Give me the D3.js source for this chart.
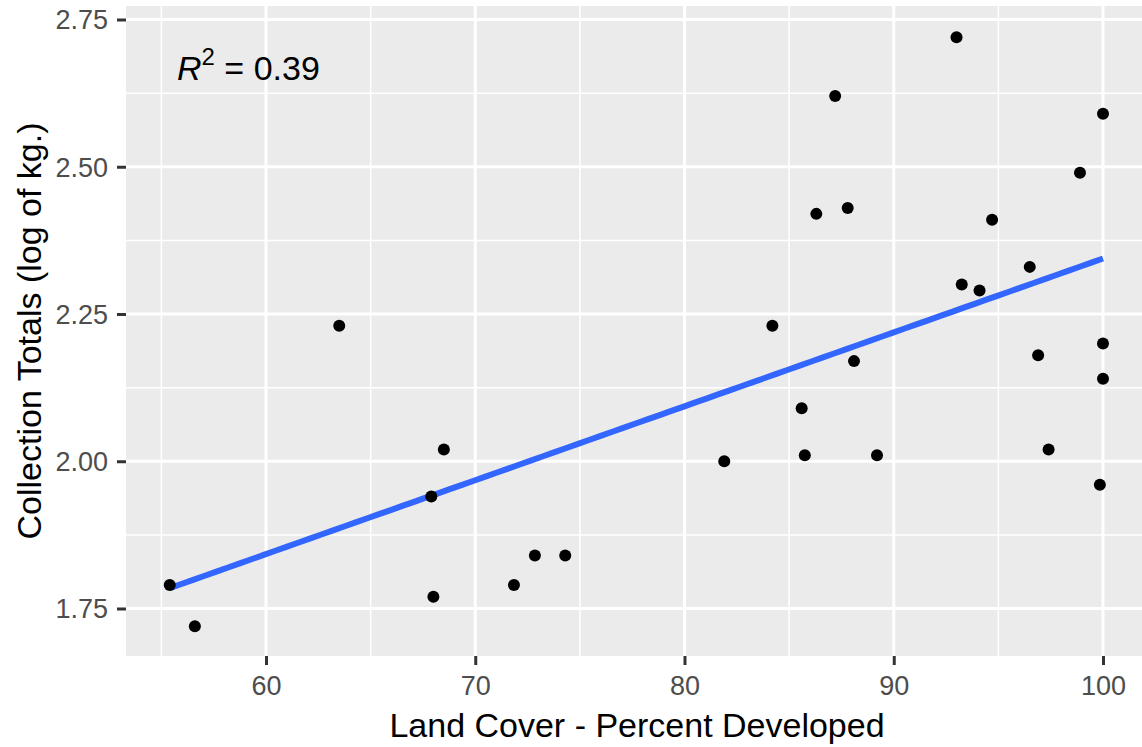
<!DOCTYPE html>
<html>
<head>
<meta charset="utf-8">
<script src="https://cdn.jsdelivr.net/npm/d3@7"></script>
<style>
  body { margin: 0; background: #fff; }
  svg { display: block; font-family: "Liberation Sans", Arial, sans-serif; }
</style>
</head>
<body>
<div class="chart"></div>
<script>
// percent developed (x) and log collection totals (y)
var developed = [55.4, 56.6, 63.5, 67.9, 68.0, 68.5, 71.85, 72.85, 74.3, 81.9,
                 84.2, 85.6, 85.75, 86.3, 87.2, 87.8, 88.1, 89.2, 93.0, 93.25,
                 94.1, 94.7, 96.5, 96.9, 97.4, 98.9, 100, 100, 100, 99.85]
var totals = [1.79, 1.72, 2.23, 1.94, 1.77, 2.02, 1.79, 1.84, 1.84, 2.00,
              2.23, 2.09, 2.01, 2.42, 2.62, 2.43, 2.17, 2.01, 2.72, 2.30,
              2.29, 2.41, 2.33, 2.18, 2.02, 2.49, 2.59, 2.20, 2.14, 1.96]
var xTicks = [60, 70, 80, 90, 100]
var yTicks = [1.75, 2.00, 2.25, 2.50, 2.75]
var xMinor = [55, 65, 75, 85, 95]
var yMinor = [1.875, 2.125, 2.375, 2.625]
var r2Label = "0.39"

var W = 1142, H = 747
var pLeft = 126, pRight = 1142, pTop = 6, pBottom = 656

var svg = d3.select(".chart")
  .append("svg")
  .attr("width", W)
  .attr("height", H)

// scales set so 60 -> 266 px and 100 -> 1103 px, 2.75 -> 19.5 px and 1.75 -> 608.5 px
var x = d3.scaleLinear().domain([60, 100]).range([266, 1103])
var y = d3.scaleLinear().domain([1.75, 2.75]).range([608.5, 19.5])

svg.append("rect")
  .attr("x", pLeft)
  .attr("y", pTop)
  .attr("width", pRight - pLeft)
  .attr("height", pBottom - pTop)
  .style("fill", "#EBEBEB")

// minor grid
xMinor.forEach(function (v) {
  svg.append("line")
    .attr("x1", x(v)).attr("x2", x(v))
    .attr("y1", pTop).attr("y2", pBottom)
    .style("stroke", "#fff").style("stroke-width", 1.5)
})
yMinor.forEach(function (v) {
  svg.append("line")
    .attr("x1", pLeft).attr("x2", pRight)
    .attr("y1", y(v)).attr("y2", y(v))
    .style("stroke", "#fff").style("stroke-width", 1.5)
})

// major grid
xTicks.forEach(function (v) {
  svg.append("line")
    .attr("x1", x(v)).attr("x2", x(v))
    .attr("y1", pTop).attr("y2", pBottom)
    .style("stroke", "#fff").style("stroke-width", 3)
})
yTicks.forEach(function (v) {
  svg.append("line")
    .attr("x1", pLeft).attr("x2", pRight)
    .attr("y1", y(v)).attr("y2", y(v))
    .style("stroke", "#fff").style("stroke-width", 3)
})

// axes
var xAxis = d3.axisBottom(x).tickValues(xTicks).tickSize(9).tickPadding(4)
  .tickFormat(d3.format("d"))
var yAxis = d3.axisLeft(y).tickValues(yTicks).tickSize(9).tickPadding(9)
  .tickFormat(d3.format(".2f"))

var gx = svg.append("g").attr("transform", "translate(0," + pBottom + ")").call(xAxis)
var gy = svg.append("g").attr("transform", "translate(" + pLeft + ",0)").call(yAxis)

;[gx, gy].forEach(function (g) {
  g.select(".domain").remove()
  g.selectAll(".tick line").style("stroke", "#333333").style("stroke-width", 3)
  g.selectAll(".tick text")
    .style("font-size", "27px")
    .style("fill", "#4D4D4D")
    .attr("font-family", "Liberation Sans, Arial, sans-serif")
})
gx.selectAll(".tick text").attr("dy", "0.95em")
gy.selectAll(".tick text").attr("dy", "0.35em")

// least squares fit
var mx = d3.mean(developed), my = d3.mean(totals)
var sxy = d3.sum(developed, function (d, i) { return (d - mx) * (totals[i] - my) })
var sxx = d3.sum(developed, function (d) { return (d - mx) * (d - mx) })
var slope = sxy / sxx, intercept = my - slope * mx
var xr = d3.extent(developed)
var fitPts = d3.range(0, 81).map(function (k) {
  var xv = xr[0] + (xr[1] - xr[0]) * k / 80
  return [xv, intercept + slope * xv]
})

var line = d3.line()
  .x(function (d) { return x(d[0]) })
  .y(function (d) { return y(d[1]) })

svg.append("path")
  .datum(fitPts)
  .attr("d", line)
  .style("fill", "none")
  .style("stroke", "#3366FF")
  .style("stroke-width", 6)

// points
svg.selectAll(".pt")
  .data(developed)
  .enter()
  .append("circle")
  .attr("class", "pt")
  .attr("cx", function (d) { return x(d) })
  .attr("cy", function (d, i) { return y(totals[i]) })
  .attr("r", 6)
  .style("fill", "#000")

// R^2 label
var lab = svg.append("text")
  .attr("x", 177)
  .attr("y", 80)
  .style("font-size", "34px")
  .style("fill", "#000")
lab.append("tspan").text("R").style("font-style", "italic")
lab.append("tspan").text("2").attr("dy", -15).style("font-size", "24px")
lab.append("tspan").text(" = " + r2Label).attr("dy", 15)

// axis titles
svg.append("text")
  .attr("x", 637)
  .attr("y", 737)
  .attr("text-anchor", "middle")
  .style("font-size", "34px")
  .style("fill", "#000")
  .text("Land Cover - Percent Developed")

svg.append("text")
  .attr("text-anchor", "middle")
  .attr("transform", "translate(41," + (pTop + pBottom) / 2 + ") rotate(-90)")
  .style("font-size", "34px")
  .style("fill", "#000")
  .text("Collection Totals (log of kg.)")
</script>
</body>
</html>
